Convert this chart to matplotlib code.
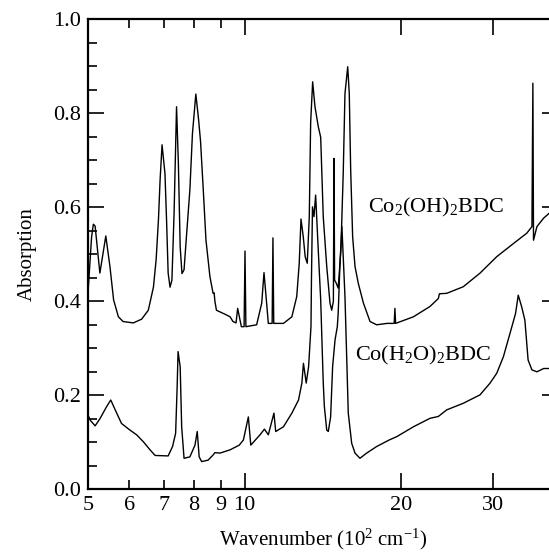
import numpy as np
import matplotlib
matplotlib.use("Agg")
import matplotlib.pyplot as plt
from matplotlib.ticker import FixedLocator, FixedFormatter, MultipleLocator, FormatStrFormatter

plt.rcParams['font.family'] = ['Liberation Serif', 'DejaVu Serif']
plt.rcParams['mathtext.fontset'] = 'custom'
plt.rcParams['mathtext.rm'] = 'Liberation Serif'
plt.rcParams['mathtext.it'] = 'Liberation Serif:italic'

# Co2(OH)2BDC spectrum: wavenumber (10^2 cm^-1), absorption
oh_wn = [5.00, 5.08, 5.12, 5.16, 5.27, 5.41, 5.51, 5.60, 5.72, 5.84, 6.11, 6.34, 6.53,
         6.68, 6.76, 6.83, 6.88, 6.94, 7.03, 7.08, 7.13, 7.19, 7.25, 7.32, 7.40, 7.46,
         7.52, 7.58, 7.65, 7.74, 7.85, 7.94, 8.06, 8.16, 8.23, 8.33, 8.43, 8.58, 8.70,
         8.74, 8.77, 8.83, 9.23, 9.38, 9.50, 9.63, 9.70, 9.86, 9.98, 10.02, 10.06, 10.55,
         10.79, 10.90, 11.00, 11.11, 11.30, 11.34, 11.38, 11.88, 12.33, 12.60, 12.74,
         12.84, 12.97, 13.08, 13.20, 13.32, 13.40, 13.52, 13.66, 13.86, 14.01, 14.17,
         14.39, 14.60, 14.71, 14.82, 14.86, 14.90, 14.99, 15.14, 15.32, 15.48, 15.60,
         15.79, 15.90, 16.00, 16.14, 16.31, 16.55, 16.93, 17.43, 17.95, 18.79, 19.31,
         19.40, 19.46, 19.52, 21.12, 22.73, 23.59, 23.7, 24.48, 26.34, 28.37, 30.55, 32.9,
         34.9, 35.7, 35.85, 35.95, 36.5, 37.6, 38.5, 40.0]
oh_abs = [0.418, 0.537, 0.564, 0.560, 0.460, 0.539, 0.474, 0.403, 0.367, 0.357, 0.354,
          0.362, 0.381, 0.430, 0.488, 0.573, 0.658, 0.733, 0.672, 0.573, 0.460, 0.430,
          0.445, 0.588, 0.814, 0.694, 0.516, 0.459, 0.467, 0.545, 0.637, 0.757, 0.841,
          0.786, 0.740, 0.637, 0.530, 0.452, 0.417, 0.418, 0.400, 0.381, 0.371, 0.367,
          0.357, 0.354, 0.385, 0.346, 0.346, 0.507, 0.346, 0.350, 0.396, 0.461, 0.410,
          0.353, 0.353, 0.535, 0.353, 0.353, 0.367, 0.410, 0.481, 0.575, 0.537, 0.495,
          0.481, 0.580, 0.779, 0.867, 0.814, 0.772, 0.749, 0.580, 0.474, 0.396, 0.381,
          0.400, 0.704, 0.445, 0.440, 0.428, 0.509, 0.672, 0.842, 0.899, 0.842, 0.679,
          0.537, 0.474, 0.438, 0.396, 0.357, 0.350, 0.353, 0.353, 0.353, 0.385, 0.353,
          0.367, 0.389, 0.406, 0.416, 0.417, 0.431, 0.460, 0.495, 0.523, 0.545, 0.559, 0.864,
          0.530, 0.559, 0.577, 0.587, 0.600]

# Co(H2O)2BDC spectrum
h2o_wn = [5.00, 5.05, 5.16, 5.27, 5.43, 5.53, 5.64, 5.80, 6.02, 6.20, 6.39, 6.58, 6.73,
          7.13, 7.27, 7.37, 7.42, 7.45, 7.52, 7.57, 7.65, 7.85, 8.03, 8.11, 8.18, 8.27,
          8.51, 8.70, 8.77, 8.97, 9.38, 9.77, 9.95, 10.17, 10.28, 10.71, 10.92, 11.11,
          11.39, 11.48, 11.88, 12.33, 12.70, 12.89, 12.98, 13.14, 13.28, 13.42, 13.45,
          13.51, 13.60, 13.70, 13.86, 14.01, 14.17, 14.24, 14.39, 14.49, 14.64, 14.77,
          14.93, 15.08, 15.14, 15.26, 15.39, 15.60, 15.83, 16.07, 16.31, 16.67, 17.17,
          17.95, 18.98, 19.62, 21.12, 22.73, 23.59, 24.48, 26.34, 28.37, 29.66, 30.55,
          31.46, 32.4, 33.2, 33.6, 34.1, 34.6, 35.1, 35.7, 36.5, 37.6, 38.5, 40.0]
h2o_abs = [0.158, 0.147, 0.135, 0.150, 0.176, 0.190, 0.169, 0.140, 0.126, 0.116, 0.101,
           0.084, 0.072, 0.071, 0.091, 0.119, 0.218, 0.293, 0.261, 0.133, 0.066, 0.069,
           0.094, 0.123, 0.069, 0.059, 0.062, 0.073, 0.078, 0.077, 0.084, 0.094, 0.105,
           0.154, 0.094, 0.116, 0.128, 0.116, 0.162, 0.123, 0.133, 0.162, 0.190, 0.226,
           0.268, 0.226, 0.261, 0.346, 0.450, 0.601, 0.580, 0.626, 0.509, 0.403, 0.226,
           0.176, 0.126, 0.123, 0.154, 0.261, 0.318, 0.346, 0.375, 0.481, 0.559, 0.410,
           0.162, 0.098, 0.077, 0.066, 0.077, 0.091, 0.105, 0.112, 0.133, 0.151, 0.155,
           0.169, 0.183, 0.201, 0.226, 0.247, 0.282, 0.332, 0.374, 0.413, 0.389, 0.360,
           0.275, 0.254, 0.250, 0.257, 0.257, 0.258]

minor_ticks = [5, 6, 7, 8, 9]
major_ticks = [10, 20, 30]

fig = plt.figure(figsize=(5.49, 5.52), dpi=100)
ax = fig.add_axes([0.1603, 0.1136, 0.8554, 0.8514])

ax.plot(oh_wn, oh_abs, color='black', lw=1.0)
ax.plot(h2o_wn, h2o_abs, color='black', lw=1.0)

ax.set_xscale('log')
ax.set_xlim(5, 40)
ax.set_ylim(0.0, 1.0)

ax.xaxis.set_major_locator(FixedLocator(major_ticks))
ax.xaxis.set_major_formatter(FixedFormatter([str(t) for t in major_ticks]))
ax.xaxis.set_minor_locator(FixedLocator(minor_ticks))
ax.xaxis.set_minor_formatter(FixedFormatter([str(t) for t in minor_ticks]))
ax.yaxis.set_major_locator(MultipleLocator(0.2))
ax.yaxis.set_minor_locator(MultipleLocator(0.05))
ax.yaxis.set_major_formatter(FormatStrFormatter('%.1f'))

ax.tick_params(which='both', direction='in', top=True, right=True, width=1.2,
               labelsize=16, pad=5)
ax.tick_params(which='major', length=11.5)
ax.tick_params(which='minor', length=6.5)
for s in ax.spines.values():
    s.set_linewidth(1.6)

ax.set_xlabel(r'Wavenumber (10$^2$ cm$^{-1}$)', fontsize=15, labelpad=8)
ax.set_ylabel('Absorption', fontsize=15, labelpad=12)

ax.text(17.3, 0.588, r'Co$_2$(OH)$_2$BDC', fontsize=16, va='baseline', ha='left')
ax.text(16.3, 0.275, r'Co(H$_2$O)$_2$BDC', fontsize=16, va='baseline', ha='left')

fig.savefig('out.png', dpi=100)
